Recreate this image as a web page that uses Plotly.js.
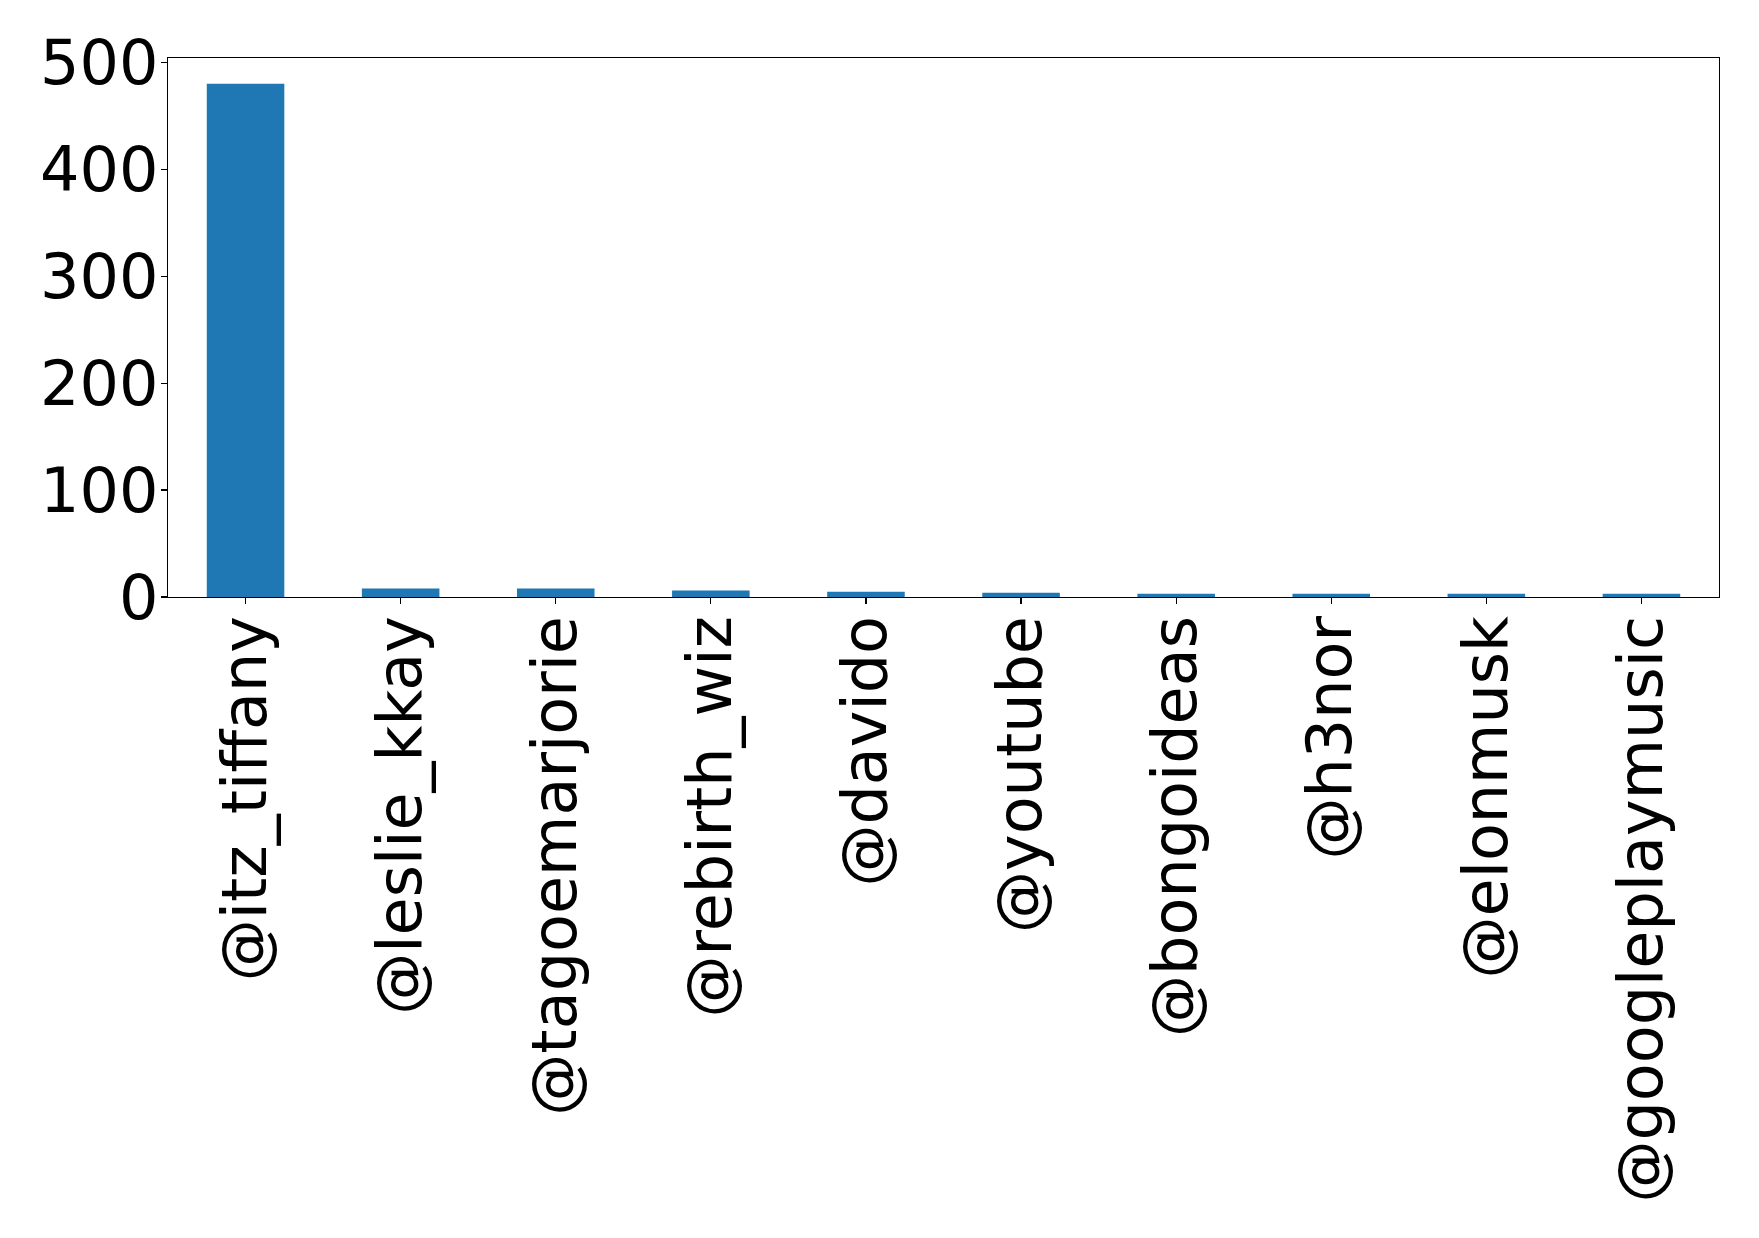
<!DOCTYPE html>
<html>
<head>
<meta charset="utf-8">
<script src="https://cdn.plot.ly/plotly-3.0.1.min.js"></script>
<style>
  html, body { margin: 0; padding: 0; background: #ffffff; }
  #chart { width: 1759px; height: 1238px; }
</style>
</head>
<body>
<div id="chart"></div>
<script>
const categories = ["@itz_tiffany", "@leslie_kkay", "@tagoemarjorie", "@rebirth_wiz", "@davido",
                    "@youtube", "@bongoideas", "@h3nor", "@elonmusk", "@googleplaymusic"];
const counts = [480, 8, 8, 6, 5, 4, 3, 3, 3, 3];
const yTicks = [0, 100, 200, 300, 400, 500];

const trace = {
  type: "bar",
  x: categories,
  y: counts,
  width: 0.5,
  marker: { color: "#1f77b4", line: { width: 0 } },
  hoverinfo: "x+y"
};

const fontFamily = "DejaVu Sans, sans-serif";

const layout = {
  width: 1759,
  height: 1238,
  paper_bgcolor: "#ffffff",
  plot_bgcolor: "#ffffff",
  margin: { l: 168, r: 40, t: 58, b: 641, pad: 0 },
  showlegend: false,
  bargap: 0.5,
  xaxis: {
    type: "category",
    range: [-0.5, 9.5],
    automargin: false,
    showline: true,
    linecolor: "#000000",
    linewidth: 1.2,
    mirror: true,
    ticks: "outside",
    ticklen: 6,
    tickwidth: 1.2,
    tickcolor: "#000000",
    tickangle: -90,
    ticklabelstandoff: -13,
    tickfont: { family: fontFamily, size: 62, color: "#000000" },
    showgrid: false,
    zeroline: false
  },
  yaxis: {
    range: [0, 504],
    automargin: false,
    tickmode: "array",
    tickvals: yTicks,
    ticktext: yTicks.map(String),
    showline: true,
    linecolor: "#000000",
    linewidth: 1.2,
    mirror: true,
    ticks: "outside",
    ticklen: 6,
    tickwidth: 1.2,
    tickcolor: "#000000",
    ticklabelstandoff: -10,
    tickfont: { family: fontFamily, size: 62, color: "#000000" },
    showgrid: false,
    zeroline: false
  }
};

Plotly.newPlot("chart", [trace], layout, { staticPlot: true, displayModeBar: false });
</script>
</body>
</html>
